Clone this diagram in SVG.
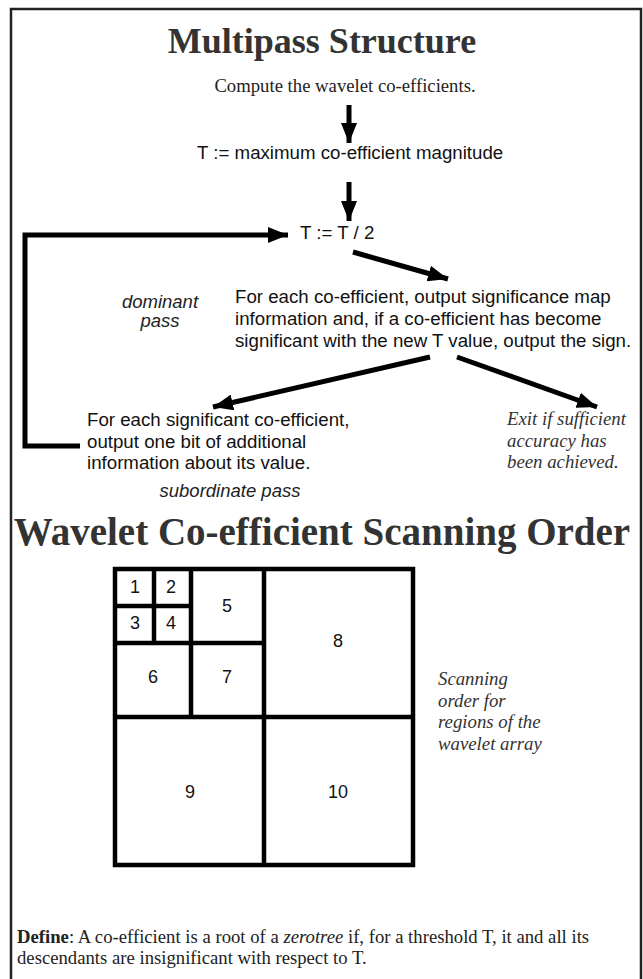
<svg xmlns="http://www.w3.org/2000/svg" width="643" height="979" viewBox="0 0 643 979">
<style>
.title{font-family:"Liberation Serif",serif;font-weight:bold;fill:#333;}
.serif{font-family:"Liberation Serif",serif;font-size:18.7px;fill:#222;}
.serifi{font-family:"Liberation Serif",serif;font-style:italic;font-size:18.8px;fill:#333;}
.sans{font-family:"Liberation Sans",Arial,sans-serif;font-size:18.7px;fill:#111;}
.sansi{font-family:"Liberation Sans",Arial,sans-serif;font-style:italic;font-size:18.5px;fill:#222;}
.num{font-family:"Liberation Sans",Arial,sans-serif;font-size:18px;fill:#111;text-anchor:middle;}
.conn{stroke:#000;stroke-width:5;fill:none;}
.grid{stroke:#000;stroke-width:4.5;fill:none;}
</style>
<defs>
<marker id="ah" markerUnits="userSpaceOnUse" markerWidth="22" markerHeight="16" refX="20" refY="8" orient="auto">
<path d="M0,0 L20,8 L0,16 Z" fill="#000"/>
</marker>
</defs>
<rect x="11" y="9" width="630" height="980" fill="#fff" stroke="#222" stroke-width="2.5"/>
<g id="title1"><text class="title" x="322" y="53" font-size="36" text-anchor="middle">Multipass Structure</text></g>
<g id="compute"><text class="serif" x="345" y="92" text-anchor="middle">Compute the wavelet co-efficients.</text></g>
<g id="tmax"><text class="sans" x="197" y="159">T := maximum co-efficient magnitude</text></g>
<g id="thalf"><text class="sans" x="300" y="239">T := T / 2</text></g>
<g id="dominant"><text class="sansi" x="160" y="308" text-anchor="middle">dominant</text><text class="sansi" x="160" y="327" text-anchor="middle">pass</text></g>
<g id="sigmap">
<text class="sans" x="235" y="303">For each co-efficient, output significance map</text>
<text class="sans" x="235" y="325">information and, if a co-efficient has become</text>
<text class="sans" x="235" y="347">significant with the new T value, output the sign.</text>
</g>
<g id="refine">
<text class="sans" x="87" y="426">For each significant co-efficient,</text>
<text class="sans" x="87" y="448">output one bit of additional</text>
<text class="sans" x="87" y="469">information about its value.</text>
</g>
<g id="subordinate"><text class="sansi" x="230" y="497" text-anchor="middle">subordinate pass</text></g>
<g id="exit">
<text class="serifi" x="507" y="425">Exit if sufficient</text>
<text class="serifi" x="507" y="447">accuracy has</text>
<text class="serifi" x="507" y="468">been achieved.</text>
</g>
<g id="connectors">
<line class="conn" x1="349" y1="105" x2="349" y2="143" marker-end="url(#ah)"/>
<line class="conn" x1="349" y1="182" x2="349" y2="221" marker-end="url(#ah)"/>
<line class="conn" x1="353" y1="252" x2="448" y2="279" marker-end="url(#ah)"/>
<line class="conn" x1="430" y1="357" x2="213" y2="407" marker-end="url(#ah)"/>
<line class="conn" x1="457" y1="357" x2="597" y2="407" marker-end="url(#ah)"/>
<path class="conn" stroke-width="4" d="M80,446 H25 V235 H288" marker-end="url(#ah)"/>
</g>
<g id="title2"><text class="title" x="322" y="545" font-size="39" text-anchor="middle">Wavelet Co-efficient Scanning Order</text></g>
<g id="scan-grid">
<rect class="grid" x="115" y="569" width="298" height="296" stroke-width="5"/>
<line class="grid" x1="264" y1="569" x2="264" y2="865"/>
<line class="grid" x1="115" y1="717" x2="413" y2="717"/>
<line class="grid" x1="191" y1="569" x2="191" y2="717"/>
<line class="grid" x1="115" y1="643" x2="264" y2="643"/>
<line class="grid" x1="154" y1="569" x2="154" y2="643"/>
<line class="grid" x1="115" y1="606" x2="191" y2="606"/>
<text class="num" x="135" y="593">1</text>
<text class="num" x="171" y="593">2</text>
<text class="num" x="135" y="629">3</text>
<text class="num" x="171" y="629">4</text>
<text class="num" x="227" y="612">5</text>
<text class="num" x="153" y="683">6</text>
<text class="num" x="227" y="683">7</text>
<text class="num" x="338" y="647">8</text>
<text class="num" x="190" y="798">9</text>
<text class="num" x="338" y="798">10</text>
</g>
<g id="scan-caption">
<text class="serifi" x="438" y="685">Scanning</text>
<text class="serifi" x="438" y="707">order for</text>
<text class="serifi" x="438" y="728">regions of the</text>
<text class="serifi" x="438" y="750">wavelet array</text>
</g>
<g id="define">
<text class="serif" x="17" y="943"><tspan font-weight="bold">Define</tspan>: A co-efficient is a root of a <tspan font-style="italic">zerotree</tspan> if, for a threshold T, it and all its</text>
<text class="serif" x="17" y="964">descendants are insignificant with respect to T.</text>
</g>
</svg>
